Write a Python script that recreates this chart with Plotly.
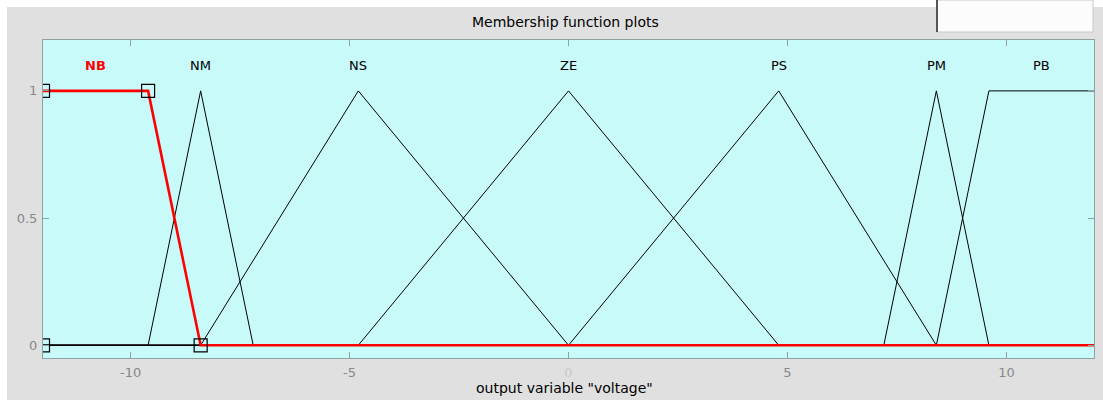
import plotly.graph_objects as go

# Output variable "voltage" universe and its membership functions
x_range = [-12, 12]
mf_names = ["NB", "NM", "NS", "ZE", "PS", "PM", "PB"]
mf_types = ["trapmf", "trimf", "trimf", "trimf", "trimf", "trimf", "trapmf"]
mf_params = [
    [-12, -12, -9.6, -8.4],
    [-9.6, -8.4, -7.2],
    [-8.4, -4.8, 0],
    [-4.8, 0, 4.8],
    [0, 4.8, 8.4],
    [7.2, 8.4, 9.6],
    [8.4, 9.6, 12, 12],
]
label_x = [-10.8, -8.4, -4.8, 0, 4.8, 8.4, 10.8]
label_y = 1.1
selected = "NB"

x_ticks = [-10, -5, 0, 5, 10]
x_ticktext = ["-10", "-5", "<span style='color:#c8c8c8'>0</span>", "5", "10"]
y_ticks = [0, 0.5, 1]
y_ticktext = ["0", "0.5", "1"]

FONT = "DejaVu Sans, Liberation Sans, sans-serif"
BORDER = "#8fa2a2"


def vertices(kind, p):
    """Corner points of a piecewise-linear MF across the whole universe."""
    lo, hi = x_range
    if kind == "trimf":
        xs = [lo, p[0], p[1], p[2], hi]
        ys = [0, 0, 1, 0, 0]
    else:
        xs = [lo, p[0], p[1], p[2], p[3], hi]
        ys = [0, 0, 1, 1, 0, 0]
    clean = []
    for x, y in zip(xs, ys):
        if clean and clean[-1] == (x, y):
            continue
        clean.append((x, y))
    # a shoulder at the edge of the universe stays at full height
    if kind == "trapmf" and p[1] <= lo:
        clean = [c for c in clean if not (c[0] == lo and c[1] == 0)]
    if kind == "trapmf" and p[2] >= hi:
        clean = [c for c in clean if not (c[0] == hi and c[1] == 0)]
    return [c[0] for c in clean], [c[1] for c in clean]


fig = go.Figure()

# unselected functions in black
for name, kind, p in zip(mf_names, mf_types, mf_params):
    if name == selected:
        continue
    xs, ys = vertices(kind, p)
    fig.add_trace(go.Scatter(x=xs, y=ys, mode="lines",
                             line=dict(color="black", width=1),
                             hoverinfo="skip", showlegend=False))

# selected function highlighted in red, with vertex handles
for name, kind, p in zip(mf_names, mf_types, mf_params):
    if name != selected:
        continue
    xs, ys = vertices(kind, p)
    fig.add_trace(go.Scatter(x=xs, y=ys, mode="lines",
                             line=dict(color="#ff0000", width=2.6),
                             hoverinfo="skip", showlegend=False))
    hx = [p[0], p[1], p[2], p[3]]
    hy = [0, 1, 1, 0]
    fig.add_trace(go.Scatter(x=hx, y=hy, mode="markers",
                             marker=dict(symbol="square-open", size=13,
                                         color="black", line=dict(width=1.2)),
                             hoverinfo="skip", showlegend=False))

# MF name labels
for name, lx in zip(mf_names, label_x):
    sel = name == selected
    fig.add_annotation(x=lx, y=label_y, xref="x", yref="y", showarrow=False,
                       text=f"<b>{name}</b>" if sel else name,
                       xanchor="center", yanchor="middle",
                       font=dict(family=FONT, size=13,
                                 color="#ff0000" if sel else "black"))

# panel title and axis title
fig.add_annotation(x=0.4967, y=1.0566, xref="paper", yref="paper",
                   showarrow=False, text="Membership function plots",
                   xanchor="center", yanchor="middle",
                   font=dict(family=FONT, size=14, color="black"))
fig.add_annotation(x=0.4962, y=-0.0943, xref="paper", yref="paper",
                   showarrow=False, text='output variable "voltage"',
                   xanchor="center", yanchor="middle",
                   font=dict(family=FONT, size=14, color="black"))

# window chrome: white strips and the edit box at top right
W, H = 1103, 403
L, R, T, B = 43, 9, 40, 45
pw, ph = W - L - R, H - T - B


def px(xp):
    return (xp - L) / pw


def py(yp):
    return (H - B - yp) / ph


for x0, y0, x1, y1 in [(0, 0, W, 7), (0, 0, 7, H), (0, 400, W, H)]:
    fig.add_shape(type="rect", xref="paper", yref="paper",
                  x0=px(x0), x1=px(x1), y0=py(y1), y1=py(y0),
                  fillcolor="white", line=dict(width=0), layer="above")
fig.add_shape(type="rect", xref="paper", yref="paper",
              x0=px(937), x1=px(1093), y0=py(32), y1=py(0),
              fillcolor="#fcfcfc", line=dict(color="#c8c8c8", width=1),
              layer="above")
fig.add_shape(type="line", xref="paper", yref="paper",
              x0=px(937), x1=px(937), y0=py(32), y1=py(0),
              line=dict(color="#555555", width=2), layer="above")

fig.update_xaxes(range=x_range, tickvals=x_ticks, ticktext=x_ticktext,
                 showgrid=False, zeroline=False, showline=True,
                 linecolor=BORDER, linewidth=1, mirror="ticks",
                 ticks="inside", ticklen=6, tickcolor=BORDER, tickwidth=1,
                 ticklabelstandoff=2,
                 tickfont=dict(family=FONT, size=13, color="#888888"))
fig.update_yaxes(range=[-0.05, 1.2], tickvals=y_ticks, ticktext=y_ticktext,
                 showgrid=False, zeroline=False, showline=True,
                 linecolor=BORDER, linewidth=1, mirror="ticks",
                 ticks="inside", ticklen=6, tickcolor=BORDER, tickwidth=1,
                 ticklabelstandoff=2,
                 tickfont=dict(family=FONT, size=13, color="#888888"))

fig.update_layout(width=W, height=H,
                  margin=dict(l=L, r=R, t=T, b=B, autoexpand=False),
                  paper_bgcolor="#e0e0e0", plot_bgcolor="#c8fafa",
                  showlegend=False)

fig.write_html("out.html")
